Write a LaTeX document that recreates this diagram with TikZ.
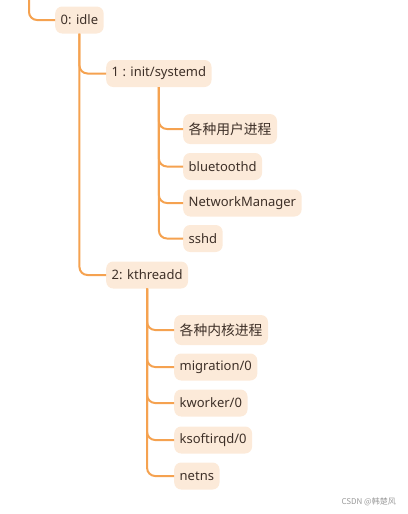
\documentclass[tikz,border=0pt]{standalone}
\usepackage{fontspec}
\setmainfont{Noto Sans}
\newfontfamily\cjk{Noto Sans CJK SC}
\definecolor{boxfill}{RGB}{252,234,217}
\definecolor{linecol}{RGB}{245,162,80}
\definecolor{txtcol}{RGB}{62,48,40}
\newcommand{\cjkbig}{\cjk\fontsize{13.8}{16}\selectfont}
\tikzset{
  proc/.style={draw=none, fill=boxfill, rounded corners=7pt, anchor=west,
    minimum height=27pt, inner xsep=5.5pt, inner ysep=0pt,
    text=txtcol, font=\fontsize{13}{15}\selectfont},
  link/.style={draw=linecol, line width=2pt, rounded corners=8pt}
}
\begin{document}
\begin{tikzpicture}[x=1pt,y=-1pt]
\useasboundingbox (0,0) rectangle (407,514);
\coordinate (top) at (29,0);
\node[proc] (n0) at (55,20) {0: idle};
\node[proc] (n1) at (106,73.5) {1 : init/systemd};
\node[proc, minimum height=30pt] (u1) at (183,129) {{\cjkbig 各种用户进程}};
\node[proc] (u2) at (183,166.5) {bluetoothd};
\node[proc] (u3) at (183,203) {NetworkManager};
\node[proc] (u4) at (183,238.5) {sshd};
\node[proc] (n2) at (106,275) {2: kthreadd};
\node[proc, minimum height=30pt] (k1) at (174,330) {{\cjkbig 各种内核进程}};
\node[proc] (k2) at (174,367) {migration/0};
\node[proc] (k3) at (174,403) {kworker/0};
\node[proc] (k4) at (174,440) {ksoftirqd/0};
\node[proc] (k5) at (174,476) {netns};
\draw[link] (top) |- (n0.west);
\foreach \c in {n1,n2} \draw[link] (n0.south) |- (\c.west);
\foreach \c in {u1,u2,u3,u4} \draw[link] (n1.south) |- (\c.west);
\foreach \c in {k1,k2,k3,k4,k5} \draw[link] (n2.south) |- (\c.west);
\node[anchor=east, text=black!40, font=\cjk\fontsize{8}{10}\selectfont, inner sep=0pt] (wm) at (396,502) {CSDN @韩楚风};
\end{tikzpicture}
\end{document}
